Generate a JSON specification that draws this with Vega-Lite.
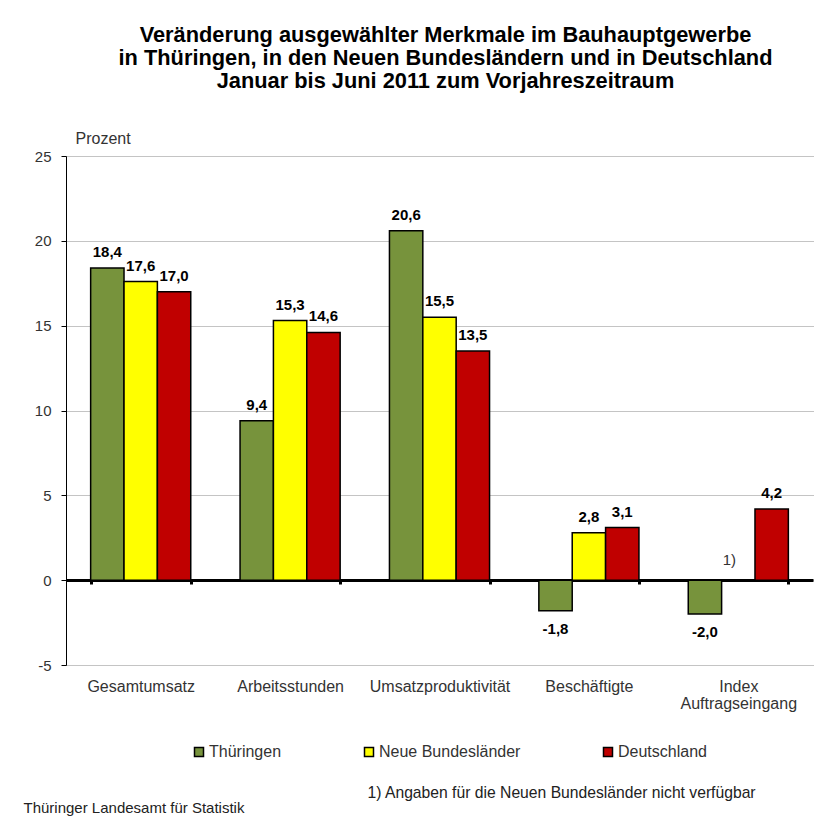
{
  "$schema": "https://vega.github.io/schema/vega-lite/v6.json",
  "autosize": "none",
  "width": 747,
  "height": 509,
  "padding": {"left": 66, "top": 156, "right": 8, "bottom": 153},
  "background": "white",
  "config": {
    "font": "Liberation Sans",
    "view": {"stroke": null}
  },
  "title": {
    "text": ["Veränderung ausgewählter Merkmale im Bauhauptgewerbe", "in Thüringen, in den Neuen Bundesländern und in Deutschland", "Januar bis Juni 2011 zum Vorjahreszeitraum"],
    "anchor": "middle",
    "frame": "group",
    "font": "Liberation Sans",
    "fontSize": 21.8,
    "fontWeight": "bold",
    "color": "black",
    "lineHeight": 23,
    "offset": 37,
    "dx": 6
  },
  "datasets": {
    "werte": [
      {"kategorie": "Gesamtumsatz", "reihe": "Thüringen", "wert": 18.4},
      {"kategorie": "Gesamtumsatz", "reihe": "Neue Bundesländer", "wert": 17.6},
      {"kategorie": "Gesamtumsatz", "reihe": "Deutschland", "wert": 17.0},
      {"kategorie": "Arbeitsstunden", "reihe": "Thüringen", "wert": 9.4},
      {"kategorie": "Arbeitsstunden", "reihe": "Neue Bundesländer", "wert": 15.3},
      {"kategorie": "Arbeitsstunden", "reihe": "Deutschland", "wert": 14.6},
      {"kategorie": "Umsatzproduktivität", "reihe": "Thüringen", "wert": 20.6},
      {"kategorie": "Umsatzproduktivität", "reihe": "Neue Bundesländer", "wert": 15.5},
      {"kategorie": "Umsatzproduktivität", "reihe": "Deutschland", "wert": 13.5},
      {"kategorie": "Beschäftigte", "reihe": "Thüringen", "wert": -1.8},
      {"kategorie": "Beschäftigte", "reihe": "Neue Bundesländer", "wert": 2.8},
      {"kategorie": "Beschäftigte", "reihe": "Deutschland", "wert": 3.1},
      {"kategorie": "Index Auftragseingang", "reihe": "Thüringen", "wert": -2.0},
      {"kategorie": "Index Auftragseingang", "reihe": "Deutschland", "wert": 4.2}
    ],
    "fussnote": [
      {"kategorie": "Index Auftragseingang", "reihe": "Neue Bundesländer", "wert": 1.2, "txt": "1)"}
    ]
  },
  "encoding": {
    "x": {
      "field": "kategorie",
      "type": "nominal",
      "sort": ["Gesamtumsatz", "Arbeitsstunden", "Umsatzproduktivität", "Beschäftigte", "Index Auftragseingang"],
      "scale": {"paddingInner": 0.33, "paddingOuter": 0.165},
      "axis": {
        "orient": "bottom",
        "offset": -85,
        "labelAngle": 0,
        "labelExpr": "datum.label == 'Index Auftragseingang' ? ['Index', 'Auftragseingang'] : datum.label",
        "labelFontSize": 16,
        "labelColor": "#333333",
        "labelLineHeight": 17,
        "labelPadding": 94,
        "labelBaseline": "top",
        "domain": true,
        "domainColor": "black",
        "domainWidth": 3,
        "ticks": true,
        "tickBand": "extent",
        "tickColor": "black",
        "tickWidth": 3,
        "tickSize": 4,
        "grid": false,
        "title": "1) Angaben für die Neuen Bundesländer nicht verfügbar",
        "titleX": 301,
        "titleY": 217,
        "titleAlign": "left",
        "titleBaseline": "alphabetic",
        "titleFontSize": 15.7,
        "titleFontWeight": "normal",
        "titleColor": "#222222"
      }
    },
    "xOffset": {
      "field": "reihe",
      "type": "nominal",
      "sort": ["Thüringen", "Neue Bundesländer", "Deutschland"]
    }
  },
  "layer": [
    {
      "data": {"name": "werte"},
      "layer": [
        {
          "mark": {"type": "bar", "stroke": "black", "strokeWidth": 1.5},
          "encoding": {
            "y": {
              "field": "wert",
              "type": "quantitative",
              "scale": {"domain": [-5, 25], "nice": false},
              "axis": {
                "values": [-5, 0, 5, 10, 15, 20, 25],
                "labelExpr": "replace(datum.label, '−', '-')",
                "grid": true,
                "gridColor": "#888888",
                "gridDash": [1, 1],
                "gridWidth": 1,
                "domain": true,
                "domainColor": "black",
                "domainWidth": 1,
                "ticks": true,
                "tickColor": "black",
                "tickSize": 5,
                "labelFontSize": 15,
                "labelColor": "#333333",
                "labelPadding": 10,
                "title": "Prozent",
                "titleAngle": 0,
                "titleX": 9,
                "titleY": -13,
                "titleAlign": "left",
                "titleBaseline": "alphabetic",
                "titleFontSize": 16,
                "titleFontWeight": "normal",
                "titleColor": "#333333"
              }
            },
            "color": {
              "field": "reihe",
              "type": "nominal",
              "scale": {"domain": ["Thüringen", "Neue Bundesländer", "Deutschland"], "range": ["#77933C", "#FFFF00", "#C00000"]},
              "legend": {
                "orient": "none",
                "legendX": 125,
                "legendY": 588,
                "direction": "horizontal",
                "title": null,
                "symbolType": "square",
                "symbolSize": 81,
                "symbolStrokeColor": "black",
                "symbolStrokeWidth": 1.5,
                "symbolOpacity": 1,
                "labelFontSize": 16,
                "labelColor": "#333333",
                "labelOffset": 2,
                "columnPadding": 79
              }
            }
          }
        },
        {
          "transform": [
            {"filter": "datum.wert >= 0"},
            {"calculate": "replace(format(datum.wert, '.1f'), '.', ',')", "as": "beschriftung"}
          ],
          "mark": {"type": "text", "baseline": "bottom", "dy": -8, "fontSize": 15, "fontWeight": "bold", "color": "black"},
          "encoding": {
            "y": {"field": "wert", "type": "quantitative"},
            "text": {"field": "beschriftung"}
          }
        },
        {
          "transform": [
            {"filter": "datum.wert < 0"},
            {"calculate": "replace(replace(format(datum.wert, '.1f'), '.', ','), '−', '-')", "as": "beschriftung"}
          ],
          "mark": {"type": "text", "baseline": "top", "dy": 11, "fontSize": 15, "fontWeight": "bold", "color": "black"},
          "encoding": {
            "y": {"field": "wert", "type": "quantitative"},
            "text": {"field": "beschriftung"}
          }
        }
      ]
    },
    {
      "data": {"name": "fussnote"},
      "mark": {"type": "text", "baseline": "middle", "dx": -9, "fontSize": 15, "color": "#333333"},
      "encoding": {
        "y": {
          "field": "wert",
          "type": "quantitative",
          "scale": {"domain": [-5, 25], "nice": false},
          "axis": {
            "orient": "left",
            "domain": false,
            "ticks": false,
            "labels": false,
            "grid": false,
            "title": "Thüringer Landesamt für Statistik",
            "titleAngle": 0,
            "titleX": -43,
            "titleY": 656,
            "titleAlign": "left",
            "titleBaseline": "alphabetic",
            "titleFontSize": 15,
            "titleFontWeight": "normal",
            "titleColor": "#222222"
          }
        },
        "text": {"field": "txt"}
      }
    }
  ],
  "resolve": {"scale": {"y": "independent"}, "axis": {"y": "independent"}}
}
